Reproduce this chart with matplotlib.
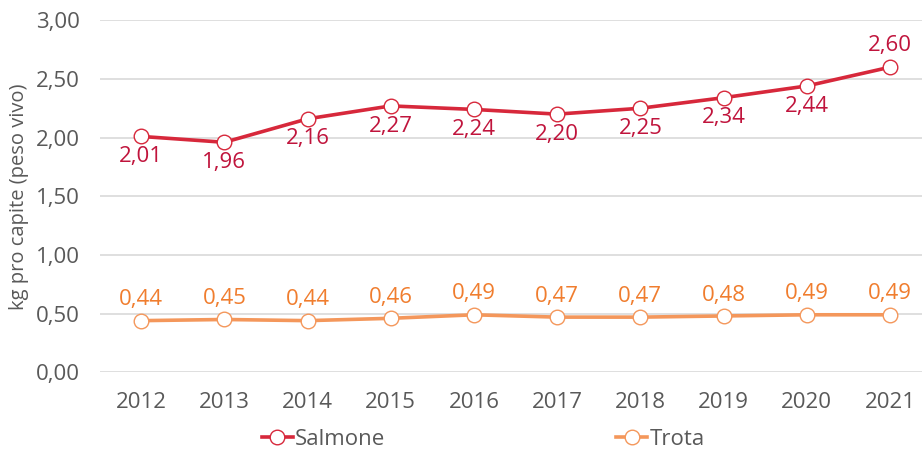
import matplotlib
matplotlib.use("Agg")
import matplotlib.pyplot as plt
import numpy as np

years = ["2012", "2013", "2014", "2015", "2016", "2017", "2018", "2019", "2020", "2021"]
salmone = [2.01, 1.96, 2.16, 2.27, 2.24, 2.20, 2.25, 2.34, 2.44, 2.60]
trota = [0.44, 0.45, 0.44, 0.46, 0.49, 0.47, 0.47, 0.48, 0.49, 0.49]
yticks = [0.0, 0.5, 1.0, 1.5, 2.0, 2.5, 3.0]

plt.rcParams['font.family'] = ['Open Sans', 'DejaVu Sans']

fig = plt.figure(figsize=(9.22, 4.5), dpi=100)
ax = fig.add_axes([0.108, 0.1727, 0.892, 0.7823])

x = np.arange(len(years))
ax.plot(x, salmone, color="#D7283B", lw=2.6, marker='o', ms=10.5,
        mfc='white', mec="#D7283B", mew=1.0, label="Salmone", zorder=3)
ax.plot(x, trota, color="#F4975B", lw=2.6, marker='o', ms=10.5,
        mfc='white', mec="#F4975B", mew=1.0, label="Trota", zorder=3)

# labels: salmone below except last, trota above
for i, v in enumerate(salmone):
    dy = 15.5 if i == len(salmone) - 1 else -14.5
    ax.annotate(f"{v:.2f}".replace('.', ','), (x[i], v), xytext=(0, dy),
                textcoords='offset points', ha='center', va='center',
                fontsize=16, color="#C0143C", zorder=4)
for i, v in enumerate(trota):
    ax.annotate(f"{v:.2f}".replace('.', ','), (x[i], v), xytext=(0, 15),
                textcoords='offset points', ha='center', va='center',
                fontsize=16, color="#F07D2E", zorder=4)

ax.set_xlim(-0.5, 9.385)
ax.set_ylim(0, 3)
ax.set_xticks(x)
ax.set_xticklabels(years)
ax.set_yticks(yticks)
ax.set_yticklabels([f"{t:.2f}".replace('.', ',') for t in yticks])
ax.tick_params(axis='both', length=0, labelsize=16, labelcolor="#595959")
ax.tick_params(axis='y', pad=14)
ax.tick_params(axis='x', pad=14)
ax.grid(axis='y', color="#D9D9D9", lw=1.2)
ax.set_axisbelow(True)
for s in ax.spines.values():
    s.set_visible(False)

ax.set_ylabel("kg pro capite (peso vivo)", fontsize=14.5, color="#595959", labelpad=5)

ax.legend(loc='center left', bbox_to_anchor=(0.178, -0.19), ncol=2, frameon=False,
          fontsize=16, labelcolor="#595959", handlelength=1.4, handletextpad=0.1,
          columnspacing=10.4, borderpad=0.2)

fig.savefig("out.png", dpi=100)
